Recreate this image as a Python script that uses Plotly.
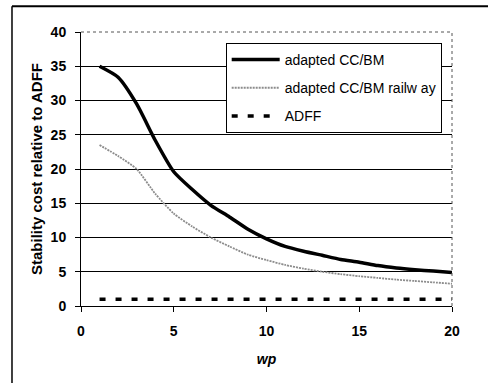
import plotly.graph_objects as go

wp = list(range(1, 21))
adapted_ccbm = [35.0, 33.4, 29.5, 24.2, 19.6, 17.0, 14.7, 13.0, 11.2, 9.8,
                8.7, 8.0, 7.4, 6.8, 6.4, 5.9, 5.55, 5.3, 5.1, 4.9]
adapted_ccbm_railway = [23.5, 21.9, 20.0, 16.4, 13.5, 11.6, 10.0, 8.7, 7.5, 6.7,
                        6.0, 5.45, 5.0, 4.65, 4.35, 4.1, 3.85, 3.65, 3.45, 3.25]
adff = [1.0] * 20

x_ticks = [0, 5, 10, 15, 20]
y_ticks = [0, 5, 10, 15, 20, 25, 30, 35, 40]

FONT = "Arial, 'Liberation Sans', sans-serif"

fig = go.Figure()
fig.add_trace(go.Scatter(x=wp, y=adapted_ccbm, mode="lines", name="adapted CC/BM",
                         legendgroup="a",
                         line=dict(color="black", width=3.5, shape="spline", smoothing=0.6)))
fig.add_trace(go.Scatter(x=wp, y=adapted_ccbm_railway, mode="lines", name="adapted CC/BM railw ay",
                         legendgroup="b",
                         line=dict(color="#8c8c8c", width=1.8, dash="2px,1px", shape="spline", smoothing=0.6)))
fig.add_trace(go.Scatter(x=wp, y=adff, mode="lines", name="ADFF",
                         legendgroup="c",
                         line=dict(color="black", width=3.5, dash="6px,10px")))

fig.update_layout(
    width=488, height=383,
    margin=dict(l=81, r=36, t=32, b=77),
    paper_bgcolor="white", plot_bgcolor="white",
    font=dict(family=FONT, size=14, color="black"),
    showlegend=True,
    legend=dict(x=0.39, y=0.96, xanchor="left", yanchor="top",
                bgcolor="white", bordercolor="black", borderwidth=1,
                font=dict(family=FONT, size=14, color="black"),
                tracegroupgap=7, itemwidth=48),
    xaxis=dict(range=[0, 20], tickvals=x_ticks, ticks="outside", ticklen=5,
               tickcolor="black", showline=True, linecolor="black", linewidth=1,
               showgrid=False, zeroline=False, ticklabelstandoff=7,
               tickfont=dict(family=FONT, size=14, color="black", weight="bold"),
               title=dict(text="<b><i>wp</i></b>", font=dict(family=FONT, size=14), standoff=16)),
    yaxis=dict(range=[0, 40], tickvals=y_ticks, ticks="outside", ticklen=5,
               tickcolor="black", showline=True, linecolor="black", linewidth=1,
               showgrid=True, gridcolor="black", gridwidth=1, zeroline=False,
               ticklabelstandoff=6,
               tickfont=dict(family=FONT, size=14, color="black", weight="bold"),
               title=dict(text="<b>Stability cost relative to ADFF</b>",
                          font=dict(family=FONT, size=15), standoff=4)),
)

# plot-area top/right dotted border
fig.add_shape(type="line", xref="paper", yref="paper", x0=0, x1=1, y0=1, y1=1,
              line=dict(color="#555555", width=1, dash="dot"))
fig.add_shape(type="line", xref="paper", yref="paper", x0=1, x1=1, y0=0, y1=1,
              line=dict(color="#555555", width=1, dash="dot"))
# outer chart frame (top and left)
fig.add_shape(type="line", xref="paper", yref="paper", x0=-0.186, x1=1.12, y0=1.094, y1=1.094,
              line=dict(color="black", width=2))
fig.add_shape(type="line", xref="paper", yref="paper", x0=-0.186, x1=-0.186, y0=-0.3, y1=1.094,
              line=dict(color="black", width=1.5))

fig.write_html("out.html", config={"displayModeBar": False},
               post_script="document.body.style.margin='0';")
